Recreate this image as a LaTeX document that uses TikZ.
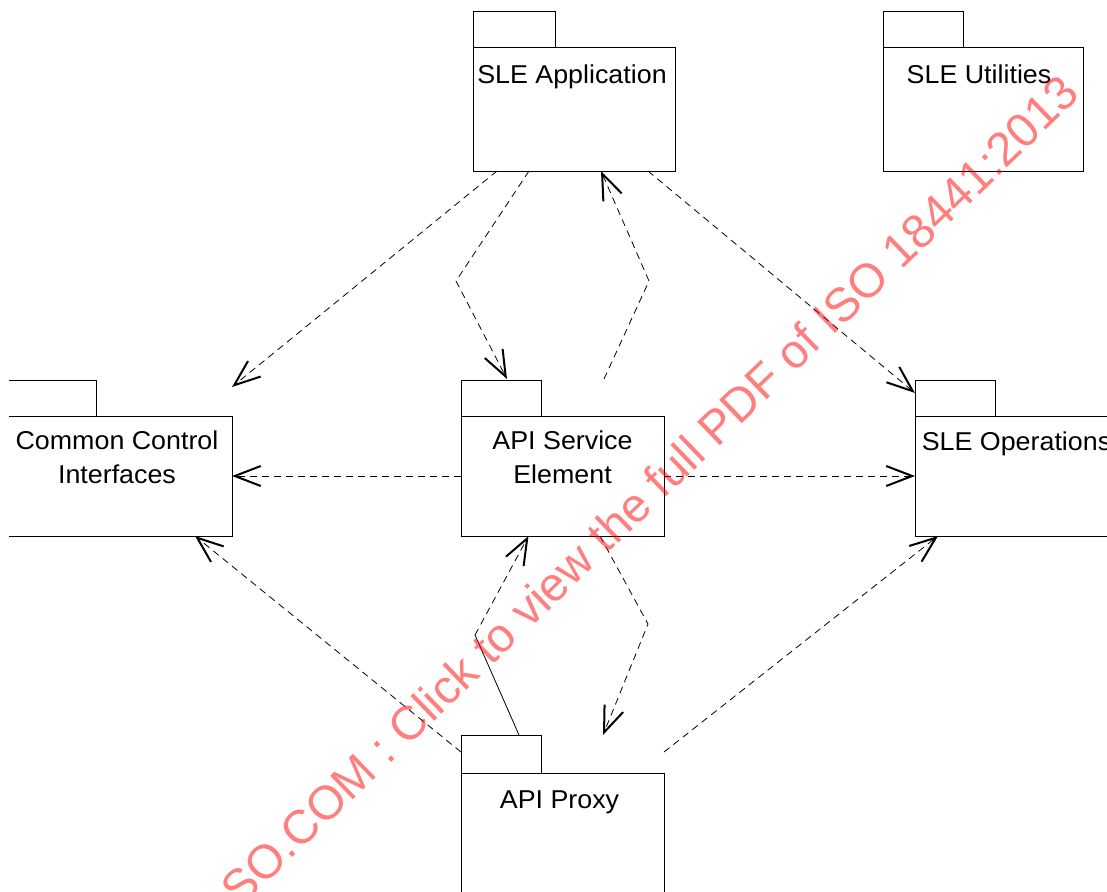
\documentclass[tikz,border=0pt]{standalone}
\usepackage{fontspec}
\setmainfont{Liberation Sans}[FakeStretch=1.04]
\newfontfamily\markfont{Liberation Sans}
\usetikzlibrary{arrows.meta,calc}

\tikzset{
  pkgline/.style={draw, line width=1pt},
  pkgbody/.style={pkgline, inner sep=0pt, outer sep=0pt},
  pkgname/.style={anchor=north, inner sep=0pt, align=center,
    font=\fontsize{25.8}{34}\selectfont,
    execute at begin node={\rule{0pt}{20pt}}},
  dep/.style={line width=0.8pt, dash pattern=on 7pt off 5pt,
    -{Straight Barb[length=26pt,width=20pt,line width=2pt]}},
  depsolid/.style={line width=0.8pt},
  stamp/.style={rotate=44, anchor=base east, inner sep=0pt,
    text=red, text opacity=0.5,
    font=\markfont\fontsize{47.5}{50}\selectfont}
}

\begin{document}
\begin{tikzpicture}[x=1pt, y=-1pt]
  \useasboundingbox (0,0) rectangle (1107,891);
  \clip (9,0) rectangle (1107,891);

  % package bodies
  \node[pkgbody, minimum width=202pt, minimum height=123pt] (app)   at (574,109.5) {};
  \node[pkgbody, minimum width=200pt, minimum height=123pt] (util)  at (983,109.5) {};
  \node[pkgbody, minimum width=228pt, minimum height=120pt] (cci)   at (118,476)   {};
  \node[pkgbody, minimum width=203pt, minimum height=120pt] (ase)   at (562.5,476) {};
  \node[pkgbody, minimum width=203pt, minimum height=120pt] (ops)   at (1016.5,476) {};
  \node[pkgbody, minimum width=203pt, minimum height=120pt] (proxy) at (562.5,833) {};

  % package tabs
  \draw[pkgline] (app.north west)   rectangle ++(82,-36);
  \draw[pkgline] (util.north west)  rectangle ++(80,-36);
  \draw[pkgline] (cci.north west)   rectangle ++(92,-36);
  \draw[pkgline] (ase.north west)   rectangle ++(80,-36);
  \draw[pkgline] (ops.north west)   rectangle ++(80,-36);
  \draw[pkgline] (proxy.north west) rectangle ++(80,-38);

  % package names
  \node[pkgname] (appname)   at ([xshift=-2pt,yshift=-15pt]app.north)   {SLE Application};
  \node[pkgname] (utilname)  at ([xshift=-4pt,yshift=-15pt]util.north)  {SLE Utilities};
  \node[pkgname] (cciname)   at ([xshift=-1pt,yshift=-15pt]cci.north)   {Common Control\\Interfaces};
  \node[pkgname] (asename)   at ([yshift=-15pt]ase.north)   {API Service\\Element};
  \node[pkgname] (opsname)   at ([yshift=-14pt]ops.north)   {SLE Operations};
  \node[pkgname] (proxyname) at ([xshift=-3pt,yshift=-15pt]proxy.north) {API Proxy};

  % bend points of the routed dependencies
  \coordinate (bAppAse)   at (456,281);
  \coordinate (bAseApp)   at (649,281);
  \coordinate (bProxyAse) at (475,635);
  \coordinate (bAseProxy) at (648,624);

  % dependencies of SLE Application
  \draw[dep] ([xshift=-77pt]app.south) -- ([yshift=29pt]cci.north east);
  \draw[dep] ([xshift=-45pt]app.south) -- (bAppAse) -- ([xshift=46pt,yshift=37pt]ase.north west);
  \draw[dep] ([xshift=74pt]app.south) -- ([yshift=23pt]ops.north west);

  % dependencies of API Service Element
  \draw[dep] ([xshift=143pt,yshift=37pt]ase.north west) -- (bAseApp) -- ([xshift=27pt]app.south);
  \draw[dep] (ase.west) -- (cci.east);
  \draw[dep] (ase.east) -- (ops.west);
  \draw[dep] ([xshift=37.5pt]ase.south) -- (bAseProxy) -- ([xshift=40.5pt,yshift=38pt]proxy.north);

  % dependencies of API Proxy
  \draw[dep] ([yshift=21pt]proxy.north west) -- ([xshift=77pt]cci.south);
  \draw[depsolid] ([xshift=58pt,yshift=38pt]proxy.north west) -- (bProxyAse);
  \draw[dep] (bProxyAse) -- ([xshift=-34pt]ase.south);
  \draw[dep] ([yshift=21pt]proxy.north east) -- ([xshift=23pt]ops.south west);

  % diagonal stamp
  \node[stamp] (stampline) at (1082,96) {SO.COM : Click to view the full PDF of ISO 18441:2013};
\end{tikzpicture}
\end{document}
